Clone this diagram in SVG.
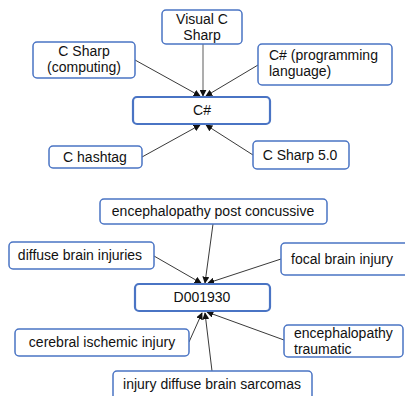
<svg xmlns="http://www.w3.org/2000/svg" width="405" height="396" viewBox="0 0 405 396">
<defs>
<style>
.n rect{fill:#fff;stroke:#4a74c4;stroke-width:1.5}
.c rect{fill:#fff;stroke:#4a74c4;stroke-width:2.2}
text{font-family:"Liberation Sans",Arial,sans-serif;font-size:14px;fill:#111}
.m{text-anchor:middle}
.e line{stroke:#222;stroke-width:0.9;marker-end:url(#a)}
</style>
<marker id="a" viewBox="0 0 10 10" refX="9" refY="5" markerWidth="7" markerHeight="7" orient="auto" markerUnits="userSpaceOnUse">
<path d="M0,0 L10,5 L0,10 z" fill="#111"/>
</marker>
</defs>
<g id="edges" class="e">
<line x1="203" y1="44" x2="203" y2="96" style="stroke:#999;stroke-width:1.6"/>
<line x1="135" y1="60" x2="200" y2="96"/>
<line x1="258" y1="65" x2="206" y2="96"/>
<line x1="142" y1="157" x2="200" y2="125"/>
<line x1="253" y1="155" x2="206" y2="125"/>
<line x1="213" y1="224" x2="205" y2="283"/>
<line x1="154" y1="256" x2="201" y2="283"/>
<line x1="281" y1="259" x2="208" y2="283"/>
<line x1="189" y1="342" x2="202" y2="313"/>
<line x1="284" y1="340" x2="207" y2="312"/>
<line x1="212" y1="371" x2="205" y2="313"/>
</g>
<g id="visual-c-sharp" class="n"><rect x="162" y="10" width="80" height="34" rx="4"/><text class="m" x="202" y="24">Visual C</text><text class="m" x="202" y="40">Sharp</text></g>
<g id="c-sharp-computing" class="n"><rect x="33" y="42" width="102" height="36" rx="4"/><text class="m" x="84" y="56">C Sharp</text><text class="m" x="84" y="72">(computing)</text></g>
<g id="c-sharp-prog" class="n"><rect x="258" y="44" width="134" height="41" rx="4"/><text x="269" y="60">C# (programming</text><text x="269" y="76">language)</text></g>
<g id="c-sharp" class="c"><rect x="133" y="97" width="137" height="27" rx="4"/><text class="m" x="202" y="115">C#</text></g>
<g id="c-hashtag" class="n"><rect x="49" y="146" width="93" height="22" rx="4"/><text class="m" x="95" y="162">C hashtag</text></g>
<g id="c-sharp-5" class="n"><rect x="253" y="141" width="96" height="28" rx="4"/><text class="m" x="300" y="160">C Sharp 5.0</text></g>
<g id="enc-post" class="n"><rect x="100" y="199" width="227" height="25" rx="4"/><text class="m" x="213" y="216">encephalopathy post concussive</text></g>
<g id="diffuse" class="n"><rect x="9" y="242" width="145" height="27" rx="4"/><text class="m" x="80" y="260">diffuse brain injuries</text></g>
<g id="focal" class="n"><rect x="281" y="243" width="130" height="32" rx="4"/><text x="291" y="264">focal brain injury</text></g>
<g id="d001930" class="c"><rect x="135" y="284" width="135" height="27" rx="4"/><text class="m" x="202" y="302">D001930</text></g>
<g id="cerebral" class="n"><rect x="15" y="329" width="174" height="27" rx="4"/><text class="m" x="102" y="347">cerebral ischemic injury</text></g>
<g id="enc-trauma" class="n"><rect x="284" y="325" width="119" height="32" rx="4"/><text x="294" y="338">encephalopathy</text><text x="294" y="354">traumatic</text></g>
<g id="injury-diffuse" class="n"><rect x="113" y="371" width="199" height="32" rx="4"/><text class="m" x="212" y="389">injury diffuse brain sarcomas</text></g>
</svg>
